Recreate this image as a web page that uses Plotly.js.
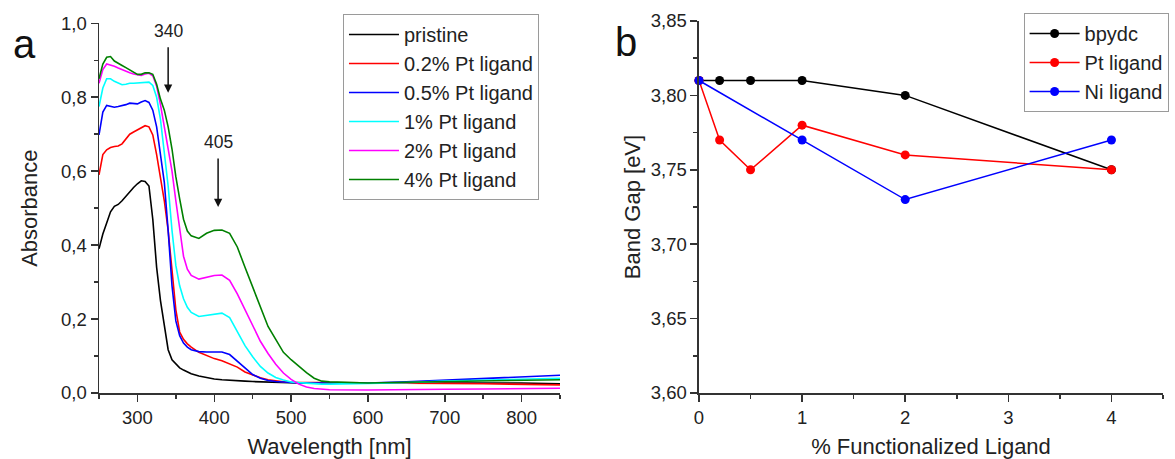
<!DOCTYPE html>
<html>
<head>
<meta charset="utf-8">
<script src="https://cdn.plot.ly/plotly-3.0.1.min.js"></script>
<style>html,body{margin:0;padding:0;background:#fff;}#chart{width:1175px;height:459px;}</style>
</head>
<body>
<div id="chart"></div>
<script>
// ---- Panel a: UV-vis absorbance ----
const wavelength = [250,255,260,265,270,275,280,285,290,295,300,305,310,315,320,325,330,335,340,345,350,355,360,365,370,
  380,390,400,410,420,430,440,450,460,470,480,490,500,510,520,530,540,550,
  600,650,700,750,800,850];
const pristine = [.39,.43,.46,.49,.505,.51,.52,.533,.545,.556,.566,.574,.572,.56,.47,.34,.25,.18,.117,.09,.078,.068,.062,.056,.052,
  .046,.041,.038,.036,.034,.033,.032,.031,.030,.029,.029,.028,.028,.027,.027,.027,.027,.027,
  .027,.028,.029,.028,.027,.025];
const pt02 = [.59,.645,.658,.664,.667,.668,.674,.686,.70,.706,.712,.718,.723,.72,.698,.645,.585,.52,.44,.34,.225,.165,.145,.133,.124,
  .11,.101,.093,.087,.078,.07,.057,.048,.041,.036,.032,.03,.029,.028,.028,.028,.028,.028,
  .027,.026,.026,.025,.024,.022];
const pt05 = [.698,.76,.778,.776,.773,.775,.777,.78,.784,.783,.782,.787,.791,.786,.765,.72,.645,.57,.44,.29,.195,.155,.135,.124,.117,
  .112,.111,.112,.111,.104,.086,.066,.05,.04,.034,.031,.029,.028,.027,.027,.027,.027,.027,
  .027,.03,.035,.039,.045,.048];
const pt1 = [.775,.825,.85,.85,.843,.838,.834,.835,.838,.838,.839,.84,.842,.841,.832,.80,.74,.65,.56,.44,.345,.29,.255,.232,.218,
  .207,.21,.214,.216,.204,.165,.128,.098,.072,.054,.042,.035,.03,.028,.026,.025,.024,.024,
  .025,.028,.032,.035,.038,.04];
const pt2 = [.838,.875,.89,.888,.884,.879,.874,.869,.866,.863,.86,.859,.863,.865,.858,.83,.78,.72,.66,.6,.52,.44,.37,.335,.318,
  .308,.313,.318,.319,.305,.268,.225,.18,.14,.107,.078,.054,.037,.024,.016,.012,.01,.009,
  .008,.008,.01,.011,.013,.013];
const pt4 = [.85,.89,.908,.91,.898,.893,.886,.88,.874,.868,.862,.862,.866,.866,.862,.835,.795,.765,.72,.66,.585,.525,.47,.438,.425,
  .418,.432,.44,.441,.432,.395,.34,.285,.23,.18,.145,.11,.09,.072,.055,.04,.032,.03,
  .027,.029,.031,.033,.035,.036];
const spectraNames = ['pristine','0.2% Pt ligand','0.5% Pt ligand','1% Pt ligand','2% Pt ligand','4% Pt ligand'];
const spectraColors = ['#000000','#ff0000','#0000ff','#00ffff','#ff00ff','#008000'];
const spectra = [pristine, pt02, pt05, pt1, pt2, pt4];

// peak markers
const peakLabels = ['340','405'];
const peakWavelengths = [340, 405];
const peakAbsorbance = [0.812, 0.503];

// ---- Panel b: band gap ----
const bpydcPct = [0, 0.2, 0.5, 1, 2, 4];
const bpydcGap = [3.81, 3.81, 3.81, 3.81, 3.80, 3.75];
const ptPct = [0, 0.2, 0.5, 1, 2, 4];
const ptGap = [3.81, 3.77, 3.75, 3.78, 3.76, 3.75];
const niPct = [0, 1, 2, 4];
const niGap = [3.81, 3.77, 3.73, 3.77];

const FONT = 'Liberation Sans, Arial, Helvetica, sans-serif';
const AX = '#333333';

const traces = [];
spectra.forEach((vals, i) => {
  traces.push({
    type: 'scatter', mode: 'lines', x: wavelength, y: vals,
    name: spectraNames[i], line: {color: spectraColors[i], width: 1.6},
    xaxis: 'x', yaxis: 'y', legend: 'legend'
  });
});
const bandSeries = [
  {x: bpydcPct, y: bpydcGap, name: 'bpydc', color: '#000000'},
  {x: ptPct, y: ptGap, name: 'Pt ligand', color: '#ff0000'},
  {x: niPct, y: niGap, name: 'Ni ligand', color: '#0000ff'}
];
bandSeries.forEach(s => {
  traces.push({
    type: 'scatter', mode: 'lines+markers', x: s.x, y: s.y, name: s.name,
    line: {color: s.color, width: 1.5}, marker: {color: s.color, size: 9},
    cliponaxis: false, xaxis: 'x2', yaxis: 'y2', legend: 'legend2'
  });
});

function axisBase() {
  return {
    showline: true, linecolor: AX, linewidth: 1.5, showgrid: false, zeroline: false,
    ticks: 'outside', ticklen: 7, tickwidth: 1.5, tickcolor: AX,
    tickfont: {size: 18.5, color: '#222', family: FONT},
    automargin: false
  };
}

const annotations = peakLabels.map((t, i) => ({
  xref: 'x', yref: 'y', x: peakWavelengths[i], y: peakAbsorbance[i],
  text: t, showarrow: true, arrowhead: 2, arrowsize: 1.1, arrowwidth: 1.5, arrowcolor: '#111',
  ax: 0, ay: i === 0 ? -62 : -65, borderpad: 6,
  font: {size: 17.5, color: '#222', family: FONT}
}));
annotations.push({xref: 'paper', yref: 'paper', x: -0.0700, y: 0.938, text: 'a', showarrow: false,
  xanchor: 'center', yanchor: 'middle', font: {size: 40, color: '#111', family: FONT}});
annotations.push({xref: 'paper', yref: 'paper', x: 0.4953, y: 0.943, text: 'b', showarrow: false,
  xanchor: 'center', yanchor: 'middle', font: {size: 40, color: '#111', family: FONT}});

const legendBase = {
  xanchor: 'left', yanchor: 'top', bgcolor: 'rgba(255,255,255,1)',
  bordercolor: '#9a9a9a', borderwidth: 1, itemwidth: 50,
  font: {size: 20, color: '#222', family: FONT}, tracegroupgap: 0
};

const layout = {
  width: 1175, height: 459,
  margin: {l: 99, r: 12, t: 21, b: 66, autoexpand: false},
  paper_bgcolor: '#ffffff', plot_bgcolor: '#ffffff',
  separators: ', ',
  font: {family: FONT, size: 18.5, color: '#222'},
  showlegend: true,
  xaxis: Object.assign(axisBase(), {
    domain: [0, 0.4333], range: [250, 850], tick0: 0, dtick: 100, anchor: 'y',
    minor: {dtick: 50, ticklen: 4, tickwidth: 1.5, tickcolor: AX, ticks: 'outside'},
    title: {text: 'Wavelength [nm]', font: {size: 22, family: FONT, color: '#222'}, standoff: 13}
  }),
  yaxis: Object.assign(axisBase(), {
    domain: [0, 0.9938], range: [0, 1], tick0: 0, dtick: 0.2, tickformat: '.1f', anchor: 'x',
    minor: {dtick: 0.1, ticklen: 4, tickwidth: 1.5, tickcolor: AX, ticks: 'outside'},
    title: {text: 'Absorbance', font: {size: 22, family: FONT, color: '#222'}, standoff: 17}
  }),
  xaxis2: Object.assign(axisBase(), {
    domain: [0.5639, 1], range: [0, 4.5], tick0: 0, dtick: 1, anchor: 'y2',
    minor: {dtick: 0.5, ticklen: 4, tickwidth: 1.5, tickcolor: AX, ticks: 'outside'},
    title: {text: '% Functionalized Ligand', font: {size: 22, family: FONT, color: '#222'}, standoff: 13}
  }),
  yaxis2: Object.assign(axisBase(), {
    domain: [0, 1], range: [3.6, 3.85], tick0: 3.6, dtick: 0.05, tickformat: '.2f', anchor: 'x2',
    minor: {dtick: 0.025, ticklen: 4, tickwidth: 1.5, tickcolor: AX, ticks: 'outside'},
    title: {text: 'Band Gap [eV]', font: {size: 22, family: FONT, color: '#222'}, standoff: 4}
  }),
  legend: Object.assign({}, legendBase, {x: 0.2293, y: 1.0188}),
  legend2: Object.assign({}, legendBase, {x: 0.869, y: 1.0215}),
  annotations: annotations
};

Plotly.newPlot('chart', traces, layout, {displayModeBar: false, responsive: false, staticPlot: true});
</script>
</body>
</html>
